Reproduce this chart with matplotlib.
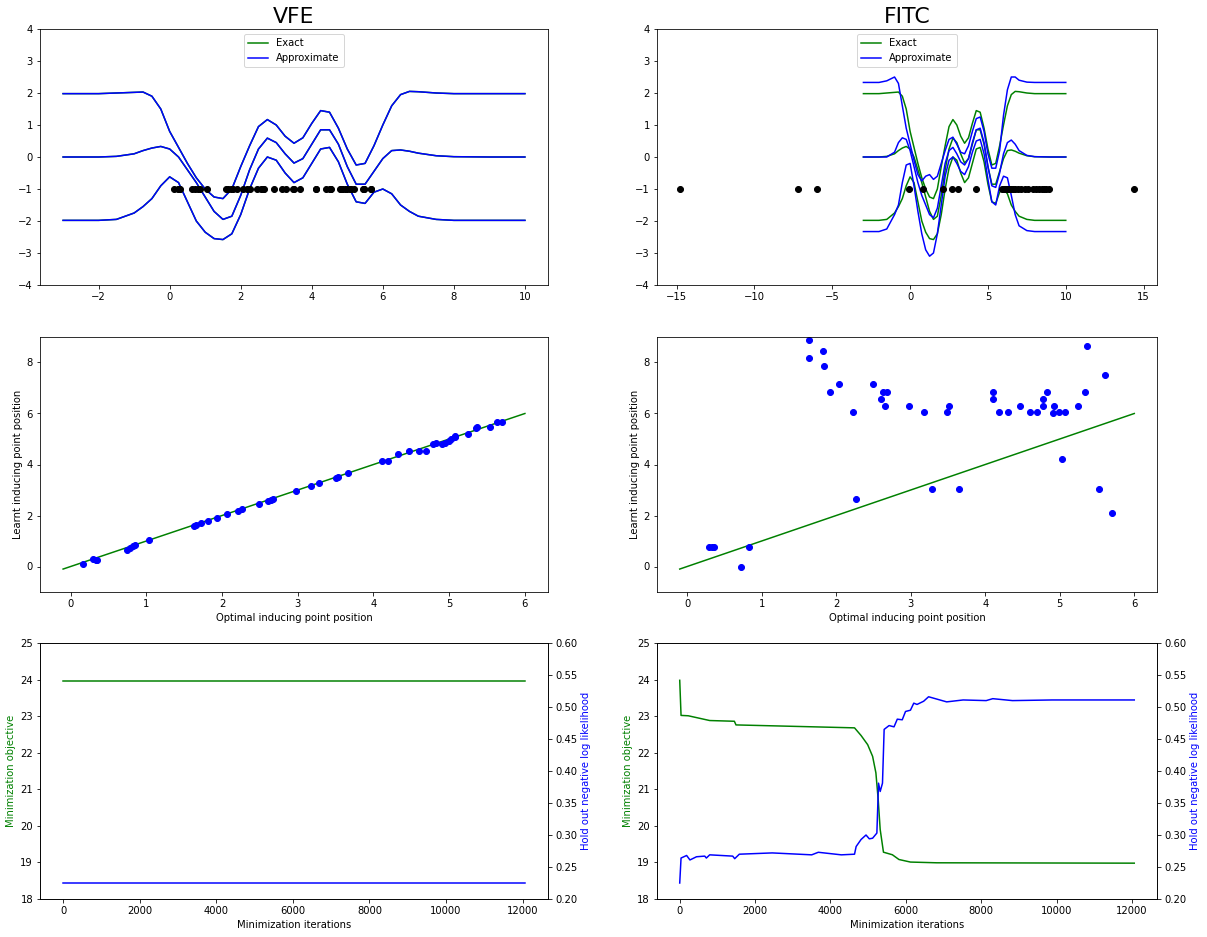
import matplotlib

matplotlib.use("Agg")
import matplotlib.pyplot as plt
import numpy as np

# ---- top row: predictive curves (mean and +/- 2 sd)
x_grid = [-3, -2, -1.5, -1, -0.75, -0.5, -0.25, 0, 0.25, 0.5, 0.75, 1, 1.25, 1.5, 1.75, 2,
          2.25, 2.5, 2.75, 3, 3.25, 3.5, 3.75, 4, 4.25, 4.5, 4.75, 5, 5.25, 5.5, 5.75, 6,
          6.25, 6.5, 6.75, 7, 7.5, 8, 9, 10]
exact_mean = [0, 0, 0.02, 0.1, 0.2, 0.28, 0.33, 0.25, 0.0, -0.4, -0.8, -1.25, -1.7, -1.95, -1.85, -1.2,
              -0.4, 0.25, 0.59, 0.45, 0.1, -0.19, -0.05, 0.4, 0.85, 0.85, 0.4, -0.3, -0.85, -0.85, -0.45, -0.05,
              0.2, 0.22, 0.18, 0.12, 0.04, 0.01, 0, 0]
exact_upper = [1.98, 1.98, 2.0, 2.02, 2.03, 1.9, 1.5, 0.8, 0.3, -0.2, -0.65, -1.0, -1.25, -1.3, -1.0, -0.3,
               0.35, 0.95, 1.17, 1.0, 0.65, 0.43, 0.6, 1.05, 1.45, 1.4, 0.9, 0.25, -0.25, -0.2, 0.35, 1.0,
               1.6, 1.95, 2.05, 2.04, 2.0, 1.98, 1.98, 1.98]
exact_lower = [-1.98, -1.98, -1.95, -1.75, -1.55, -1.3, -0.9, -0.62, -0.8, -1.4, -2.0, -2.35, -2.55, -2.58, -2.4, -1.8,
               -1.0, -0.35, 0.0, -0.1, -0.5, -0.8, -0.65, -0.2, 0.25, 0.3, -0.15, -0.85, -1.4, -1.45, -1.1, -1.0,
               -1.15, -1.5, -1.7, -1.85, -1.95, -1.98, -1.98, -1.98]
fitc_mean = [0, 0, 0, 0.15, 0.45, 0.6, 0.55, 0.2, -0.3, -0.8, -1.2, -1.5, -1.8, -1.9, -1.6, -0.9,
             -0.2, 0.2, 0.3, 0.1, -0.15, -0.25, -0.05, 0.45, 0.85, 0.9, 0.45, -0.3, -0.9, -0.95, -0.5, 0.1,
             0.45, 0.53, 0.4, 0.2, 0.05, 0.01, 0, 0]
fitc_upper = [2.33, 2.33, 2.38, 2.5, 2.3, 1.6, 0.9, 0.4, -0.1, -0.55, -0.75, -0.6, -0.55, -0.7, -0.6, -0.2,
              0.2, 0.55, 0.62, 0.4, 0.15, 0.1, 0.35, 0.8, 1.2, 1.25, 0.8, 0.1, -0.35, -0.35, 0.2, 1.3,
              2.1, 2.5, 2.5, 2.4, 2.34, 2.33, 2.33, 2.33]
fitc_lower = [-2.33, -2.33, -2.25, -1.8, -1.5, -0.8, -0.25, -0.2, -0.9, -1.7, -2.4, -2.9, -3.1, -3.0, -2.4, -1.5,
              -0.6, -0.1, 0.0, -0.2, -0.45, -0.55, -0.3, 0.15, 0.5, 0.55, 0.1, -0.7, -1.4, -1.5, -0.9, -0.6,
              -0.65, -1.2, -1.8, -2.15, -2.3, -2.33, -2.33, -2.33]

# ---- inducing points
vfe_opt = [0.16, 0.30, 0.33, 0.35, 0.74, 0.78, 0.82, 0.85, 1.04, 1.63, 1.66, 1.72, 1.82, 1.93, 2.06, 2.21,
           2.26, 2.49, 2.60, 2.64, 2.67, 2.97, 3.18, 3.28, 3.50, 3.53, 3.66, 4.11, 4.19, 4.32, 4.47, 4.60,
           4.69, 4.78, 4.82, 4.91, 4.94, 5.00, 5.03, 5.07, 5.08, 5.25, 5.35, 5.37, 5.54, 5.63, 5.70]
vfe_learnt = [0.11, 0.30, 0.27, 0.24, 0.64, 0.72, 0.80, 0.85, 1.04, 1.59, 1.63, 1.72, 1.79, 1.90, 2.06, 2.18,
              2.26, 2.46, 2.57, 2.62, 2.66, 2.95, 3.16, 3.28, 3.48, 3.51, 3.66, 4.13, 4.13, 4.41, 4.54, 4.51,
              4.51, 4.80, 4.84, 4.81, 4.86, 4.94, 5.00, 5.07, 5.10, 5.20, 5.43, 5.47, 5.47, 5.68, 5.68]
fitc_opt = [0.29, 0.33, 0.36, 0.83, 0.72, 1.63, 1.63, 1.82, 1.83, 1.92, 2.04, 2.23, 2.27, 2.49, 2.60,
            2.63, 2.68, 2.65, 2.98, 3.18, 3.28, 3.49, 3.52, 3.65, 4.10, 4.10, 4.19, 4.30, 4.47, 4.60,
            4.70, 4.77, 4.77, 4.83, 4.91, 4.92, 4.99, 5.03, 5.07, 5.25, 5.34, 5.36, 5.52, 5.61, 5.70]
fitc_learnt = [0.78, 0.78, 0.78, 0.78, -0.03, 8.89, 8.17, 8.46, 7.87, 6.85, 7.16, 6.05, 2.64, 7.16, 6.58,
               6.85, 6.85, 6.30, 6.30, 6.05, 3.03, 6.05, 6.30, 3.03, 6.85, 6.56, 6.05, 6.05, 6.30, 6.05,
               6.05, 6.56, 6.30, 6.85, 6.01, 6.30, 6.05, 4.21, 6.05, 6.30, 6.85, 8.65, 3.03, 7.52, 2.09]
fitc_top_points = [-14.8, -7.2, -6.0, -0.04, 0.84, 2.14, 2.66, 3.08, 4.23, 5.91, 6.0, 6.1, 6.2, 6.3, 6.4,
                   6.5, 6.6, 6.75, 6.9, 7.1, 7.4, 7.6, 7.9, 8.1, 8.3, 8.5, 8.6, 8.75, 8.9, 14.4]

# ---- bottom row: optimisation traces
vfe_iters = [0, 12061]
vfe_objective = [23.97, 23.97]
vfe_holdout = [0.225, 0.225]
fitc_obj_iters = [0, 35, 227, 620, 795, 1450, 1493, 4638, 4812, 4987, 5118, 5205, 5266, 5319, 5406,
                  5642, 5817, 6122, 6821, 12061]
fitc_objective = [23.98, 23.02, 23.01, 22.92, 22.88, 22.86, 22.76, 22.68, 22.47, 22.22, 21.9, 21.45,
                  20.72, 19.9, 19.28, 19.21, 19.08, 19.01, 18.99, 18.98]
fitc_nll_iters = [0, 35, 183, 271, 445, 664, 707, 795, 1406, 1459, 1581, 2454, 3502, 3677, 4288, 4638,
                  4681, 4812, 4943, 5031, 5118, 5231, 5275, 5319, 5380, 5424, 5555, 5686, 5773, 5904,
                  5991, 6122, 6210, 6297, 6472, 6603, 7083, 7520, 8131, 8306, 8830, 9878, 12061]
fitc_holdout = [0.225, 0.264, 0.268, 0.261, 0.266, 0.267, 0.264, 0.269, 0.267, 0.263, 0.270, 0.272,
                0.269, 0.273, 0.269, 0.270, 0.282, 0.293, 0.300, 0.294, 0.295, 0.303, 0.381, 0.368,
                0.381, 0.465, 0.471, 0.469, 0.481, 0.480, 0.493, 0.495, 0.506, 0.504, 0.509, 0.516,
                0.508, 0.511, 0.510, 0.513, 0.510, 0.511, 0.511]

W, H = 1207, 937
fig = plt.figure(figsize=(W / 72, H / 72), dpi=72)


def box(l, t, r, b):
    return [l / W, 1 - b / H, (r - l) / W, (b - t) / H]


cols = [(40, 548), (657, 1157)]
rows = [(29, 285), (337, 592), (643, 899)]


def top_panel(ax, title, upper, mean, lower, pts):
    x = np.array(x_grid)
    for i, y in enumerate([exact_upper, exact_mean, exact_lower]):
        ax.plot(x, y, color="green", label="Exact" if i == 0 else None)
    for i, y in enumerate([upper, mean, lower]):
        ax.plot(x, y, color="blue", label="Approximate" if i == 0 else None)
    ax.plot(pts, [-1] * len(pts), "ko")
    ax.set_ylim(-4, 4)
    ax.set_title(title, fontsize=22)
    ax.legend(loc="upper center")


ax = fig.add_axes(box(cols[0][0], rows[0][0], cols[0][1], rows[0][1]))
top_panel(ax, "VFE", exact_upper, exact_mean, exact_lower, vfe_learnt)
ax = fig.add_axes(box(cols[1][0], rows[0][0], cols[1][1], rows[0][1]))
top_panel(ax, "FITC", fitc_upper, fitc_mean, fitc_lower, fitc_top_points)
ax.set_xticks([-15, -10, -5, 0, 5, 10, 15])

for c, (xs, ys) in zip(cols, [(vfe_opt, vfe_learnt), (fitc_opt, fitc_learnt)]):
    ax = fig.add_axes(box(c[0], rows[1][0], c[1], rows[1][1]))
    ax.plot([-0.1, 6], [-0.1, 6], color="green")
    ax.plot(xs, ys, "bo")
    ax.set_ylim(-1, 9)
    ax.set_xlabel("Optimal inducing point position")
    ax.set_ylabel("Learnt inducing point position")

traces = [(vfe_iters, vfe_objective, vfe_iters, vfe_holdout),
          (fitc_obj_iters, fitc_objective, fitc_nll_iters, fitc_holdout)]
for c, (xi, obj, xn, nll) in zip(cols, traces):
    ax = fig.add_axes(box(c[0], rows[2][0], c[1], rows[2][1]))
    ax.plot(xi, obj, color="green")
    ax.set_ylim(18, 25)
    ax.set_ylabel("Minimization objective", color="green")
    ax.set_xlabel("Minimization iterations")
    ax2 = ax.twinx()
    ax2.plot(xn, nll, color="blue")
    ax2.set_ylim(0.2, 0.6)
    ax2.set_ylabel("Hold out negative log likelihood", color="blue")

fig.savefig("out.png", dpi=72)
